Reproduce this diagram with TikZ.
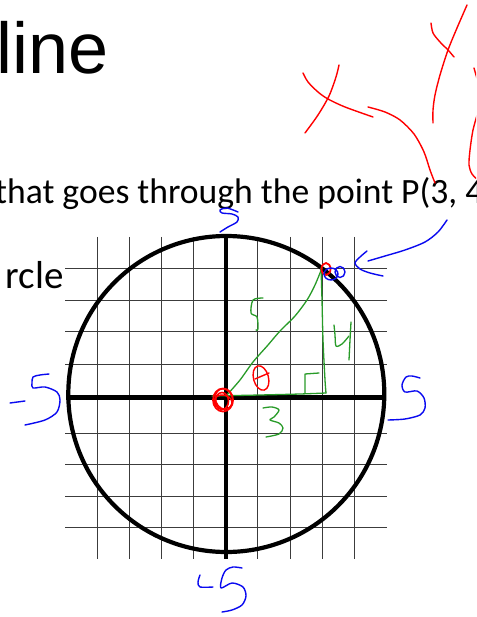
\documentclass[tikz,border=0pt]{standalone}
\usepackage{fontspec}
\setmainfont{Carlito}
\newfontfamily\titlefont{Liberation Sans}
\definecolor{inkred}{RGB}{255,0,0}
\definecolor{inkblue}{RGB}{10,10,240}
\definecolor{inkgreen}{RGB}{40,155,40}
\definecolor{gridc}{RGB}{60,60,60}
\tikzset{
  gridline/.style={draw=gridc, line width=0.9pt},
  axisline/.style={draw=black, line width=4.5pt},
  rimline/.style={draw=black, line width=4.2pt},
  redink/.style={draw=inkred, line width=1.4pt, line cap=round, line join=round},
  blueink/.style={draw=inkblue, line width=1.4pt, line cap=round, line join=round},
  greenink/.style={draw=inkgreen, line width=1.3pt, line cap=round, line join=round},
  txt/.style={anchor=base west, inner sep=0pt, text=black}
}
\begin{document}
\begin{tikzpicture}[x=1pt,y=-1pt]
\useasboundingbox (0,0) rectangle (476,617);
\clip (0,0) rectangle (476,617);
\fill[white] (0,0) rectangle (476,617);

% texts
\node[txt, font=\titlefont\fontsize{72}{80}\selectfont] (title) at (-4,74) {line};
\node[txt, font=\fontsize{35.6}{40}\selectfont] (question) at (-5,204) {that goes through the point P(3, 4};
\node[txt, font=\fontsize{39}{44}\selectfont] (circlelbl) at (5.5,288) {rcle};

% grid
\foreach \yy in {268.3,300.3,331.7,364,433,464.3,496.7,527.7}
  \draw[gridline] (65,\yy) -- (387,\yy);
\foreach \xx in {97.3,129.3,161.7,193.3,257.7,290,322,354}
  \draw[gridline] (\xx,237) -- (\xx,559);

% axes and circle
\coordinate (O) at (226,397.7);
\draw[axisline] (66,397.7) -- (386,397.7);
\draw[axisline] (226,238) -- (226,559);
\draw[rimline] (226.3,394) circle[radius=158];

% green triangle
\draw[greenink] plot[smooth] coordinates {(226,396) (240,380) (253,362) (268,345) (280,331) (295,316) (307,300) (315,285) (322,268)};
\draw[greenink] plot[smooth] coordinates {(321,268) (322,300) (323,340) (325,380) (326,393)};
\draw[greenink] plot[smooth] coordinates {(326,393) (300,394) (260,395) (212,396)};
\draw[greenink] (305,393) -- (305,374) -- (319,373);
\draw[greenink] plot[smooth] coordinates {(263,298) (253,300) (251,313) (257,317) (258,329) (256,330)};
\draw[greenink] plot[smooth] coordinates {(334,325) (335,335) (336,346) (342,344) (349,336)};
\draw[greenink] plot[smooth] coordinates {(351,322) (350,340) (349,360)};
\draw[greenink] plot[smooth] coordinates {(263,408) (272,407) (279,410) (274,417) (270,420) (279,423) (283,428) (279,434) (266,437)};

% red marks
\draw[redink] (261,378) ellipse[x radius=7.5, y radius=12.5, rotate=15];
\draw[redink] (255,379) -- (269,373);
\draw[redink, line width=1.8pt] (223,400) ellipse[x radius=10, y radius=11.5];
\draw[redink, line width=1.6pt] (222,401) ellipse[x radius=6.5, y radius=8.5];
\draw[redink, line width=1.5pt] (224,399) ellipse[x radius=8.5, y radius=10.5, rotate=20];
\draw[redink, line width=1.4pt] (223,402) ellipse[x radius=9, y radius=7, rotate=-10];
\draw[redink, line width=1.8pt] (326,269) ellipse[x radius=4.5, y radius=6];
\draw[redink] plot[smooth] coordinates {(303,73) (308,82) (318,92) (328,99) (345,107) (373,117)};
\draw[redink] plot[smooth] coordinates {(339,65) (336,77) (329,96) (318,115) (305,133)};
\draw[redink] plot[smooth] coordinates {(368,107) (385,112) (400,120) (414,134) (424,152) (430,170) (435,183)};
\draw[redink] plot[smooth] coordinates {(431,23) (433,33) (440,42) (448,50) (454,57)};
\draw[redink] plot[smooth] coordinates {(467,5) (457,28) (448,50) (440,75) (435,95) (433,110) (433,123)};
\draw[redink] plot[smooth] coordinates {(474,68) (476,75) (478,82)};
\draw[redink] plot[smooth] coordinates {(478,112) (473,130) (470,150) (469,165) (472,174) (478,180)};

% blue marks
\draw[blueink] (331,274) ellipse[x radius=7, y radius=6];
\draw[blueink] (340,272) ellipse[x radius=5, y radius=5.5];
\draw[blueink] plot[smooth] coordinates {(447,220) (438,232) (425,242) (405,250) (385,256) (368,261)};
\draw[blueink] plot[smooth] coordinates {(367,251) (360,257) (355,263) (360,269) (370,273) (383,276)};
\draw[blueink] plot[smooth] coordinates {(238,212) (227,208) (220,210) (222,213) (232,214) (238,217) (237,222) (228,227) (220,232)};
\draw[blueink] (10,403) -- (25,401);
\draw[blueink] plot[smooth] coordinates {(49,374) (40,375) (33,377) (32,383) (33,388) (45,387) (57,392) (60,400) (57,412) (45,420) (25,425)};
\draw[blueink] plot[smooth] coordinates {(420,378) (412,376) (406,377) (402,385) (405,392) (417,391) (424,398) (425,408) (420,415) (405,419) (388,420)};
\draw[blueink] plot[smooth] coordinates {(200,575) (198,582) (200,587) (213,587)};
\draw[blueink] plot[smooth] coordinates {(242,568) (233,567) (226,570) (222,578) (221,588) (232,583) (243,587) (246,596) (242,605) (232,610) (222,612)};
\end{tikzpicture}
\end{document}
